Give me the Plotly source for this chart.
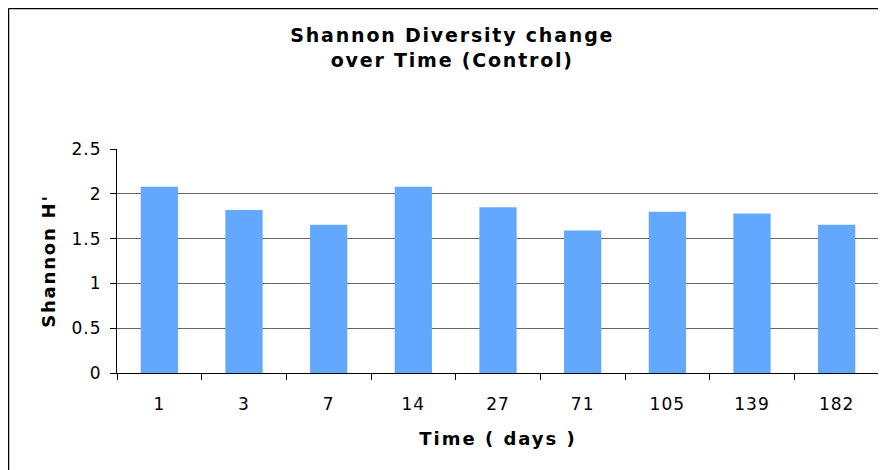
import plotly.graph_objects as go

days = ["1", "3", "7", "14", "27", "71", "105", "139", "182"]
shannon_h = [2.08, 1.82, 1.655, 2.08, 1.85, 1.59, 1.80, 1.78, 1.655]
y_ticks = [0, 0.5, 1, 1.5, 2, 2.5]


def spaced(text, px):
    return f'<span style="letter-spacing:{px}px">{text}</span>'


FONT = "DejaVu Sans"

fig = go.Figure()
fig.add_trace(go.Bar(x=days, y=shannon_h, marker=dict(color="#62A8FF", line=dict(width=0))))

# the page body has an 8px margin, so the figure is a bit smaller than the window
fig.update_layout(
    width=878, height=462,
    margin=dict(l=109, r=7, t=141, b=97),
    paper_bgcolor="white", plot_bgcolor="white",
    bargap=0.56,
    showlegend=False,
    font=dict(family=FONT, size=16, color="black"),
    title=dict(text=spaced("<b>Shannon Diversity change</b>", 1.8) + "<br>" + spaced("<b>over Time (Control)</b>", 1.8),
               x=0.506, xanchor="center", xref="container",
               y=0.926, yanchor="top", yref="container",
               font=dict(family=FONT, size=19), automargin=False),
)

fig.update_xaxes(
    type="category", showline=True, linecolor="black", linewidth=1,
    ticks="outside", tickson="boundaries", ticklen=6, tickcolor="black",
    tickvals=days, ticktext=[spaced(d, 1) for d in days],
    tickfont=dict(size=17), ticklabelstandoff=16, showgrid=False, automargin=False,
    title=dict(text=spaced("<b>Time ( days )</b>", 2), font=dict(size=18), standoff=18),
)
fig.update_yaxes(
    range=[0, 2.5], tickvals=y_ticks, ticktext=[spaced(f"{v:g}", 1) for v in y_ticks],
    showline=True, linecolor="black", linewidth=1,
    ticks="outside", ticklen=6, tickcolor="black",
    showgrid=True, gridcolor="#666666", gridwidth=1,
    tickfont=dict(size=17), ticklabelstandoff=5, automargin=False,
    title=dict(text=spaced("<b>Shannon H'</b>", 1.8), font=dict(size=18), standoff=11),
)

# outer chart-area border (left and top edges) and right plot border
fig.add_shape(type="line", xref="paper", yref="paper", x0=-0.1424, x1=-0.1424, y0=-1, y1=1.627,
              line=dict(color="black", width=1.5))
fig.add_shape(type="line", xref="paper", yref="paper", x0=-0.1424, x1=1.2, y0=1.627, y1=1.627,
              line=dict(color="black", width=1.5))
fig.add_shape(type="line", xref="paper", yref="paper", x0=1, x1=1, y0=0, y1=1,
              line=dict(color="#999999", width=1.5))

fig.write_html("out.html")
